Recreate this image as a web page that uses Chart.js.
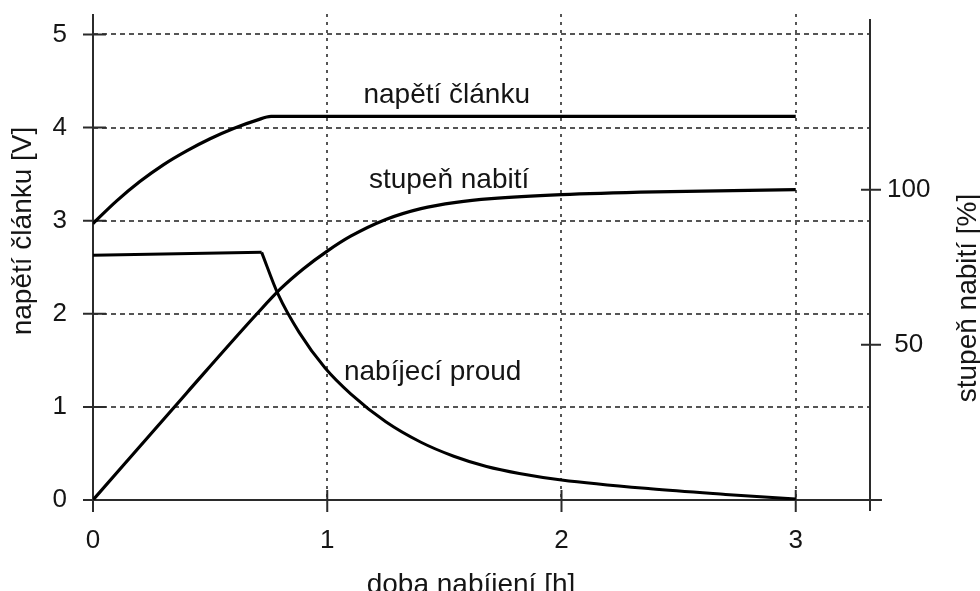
<!DOCTYPE html>
<html>
<head>
<meta charset="utf-8">
<script src="https://cdn.jsdelivr.net/npm/chart.js@4/dist/chart.umd.min.js"></script>
<style>
  html, body { margin: 0; padding: 0; background: #fff; }
  #wrap { width: 980px; height: 591px; }
</style>
</head>
<body>
<div id="wrap"><canvas id="chargeChart" width="980" height="591"></canvas></div>
<script>
// tick labels
const timeTicks = [0, 1, 2, 3];
const voltTicks = [0, 1, 2, 3, 4, 5];
const socTicks = [50, 100];

// napětí článku [V]
const voltTime = [0, 0.1, 0.2, 0.3, 0.4, 0.5, 0.6, 0.7, 0.76, 3.0];
const voltValues = [2.97, 3.21, 3.42, 3.60, 3.75, 3.88, 3.99, 4.08, 4.12, 4.12];

// nabíjecí proud (constant part, then decay)
const currentFlatTime = [0, 0.72];
const currentFlatValues = [2.63, 2.66];
const currentTime = [0.72, 0.79, 0.88, 0.99, 1.1, 1.25, 1.4, 1.54, 1.68, 1.82, 2.0, 2.38, 2.7, 3.0];
const currentValues = [2.66, 2.21, 1.80, 1.42, 1.14, 0.84, 0.62, 0.47, 0.36, 0.285, 0.215, 0.12, 0.06, 0.01];

// stupeň nabití [%]
const socTime = [0, 0.4, 0.7, 0.8, 0.9, 1.0, 1.1, 1.25, 1.4, 1.55, 1.7, 2.0, 2.4, 3.0];
const socValues = [0, 34.5, 60, 68, 74.6, 80.2, 85.0, 90.4, 93.9, 95.9, 97.1, 98.4, 99.3, 100];

// text next to the curves (time, volts at baseline)
const curveLabels = ["napětí článku", "stupeň nabití", "nabíjecí proud"];
const labelTime = [1.51, 1.52, 1.45];
const labelVolt = [4.26, 3.35, 1.29];

const pts = (xs, ys) => xs.map((v, i) => ({ x: v, y: ys[i] }));

const FONT = "'Liberation Sans', Arial, sans-serif";
const INK = "#151515";
const AXIS = "#2b2b2b";

const axisDecor = {
  id: "axisDecor",
  beforeDatasetsDraw(chart) {
    const { ctx, chartArea: a, scales } = chart;
    ctx.save();
    ctx.strokeStyle = AXIS;
    ctx.lineWidth = 2;
    ctx.beginPath();
    ctx.moveTo(a.left, a.top); ctx.lineTo(a.left, a.bottom);
    ctx.moveTo(a.left, a.bottom); ctx.lineTo(a.right + 12, a.bottom);
    ctx.moveTo(a.right, a.top + 5); ctx.lineTo(a.right, a.bottom + 11);
    timeTicks.forEach(v => {
      const px = scales.x.getPixelForValue(v);
      ctx.moveTo(px, a.bottom - 10); ctx.lineTo(px, a.bottom + 12);
    });
    voltTicks.forEach(v => {
      const py = scales.y.getPixelForValue(v);
      ctx.moveTo(a.left - 10, py); ctx.lineTo(a.left + 13, py);
    });
    socTicks.forEach(v => {
      const py = scales.y1.getPixelForValue(v);
      ctx.moveTo(a.right - 9, py); ctx.lineTo(a.right + 11, py);
    });
    ctx.stroke();
    ctx.restore();
  },
  afterDraw(chart) {
    const { ctx, scales } = chart;
    ctx.save();
    ctx.fillStyle = INK;
    ctx.font = "28px " + FONT;
    ctx.textAlign = "center";
    ctx.textBaseline = "alphabetic";
    curveLabels.forEach((t, i) => {
      ctx.fillText(t, scales.x.getPixelForValue(labelTime[i]), scales.y.getPixelForValue(labelVolt[i]));
    });
    // axis titles
    ctx.fillText("doba nabíjení [h]", 471, 593);
    ctx.save();
    ctx.translate(31, 231);
    ctx.rotate(-Math.PI / 2);
    ctx.fillText("napětí článku [V]", 0, 0);
    ctx.restore();
    ctx.save();
    ctx.translate(976, 298);
    ctx.rotate(-Math.PI / 2);
    ctx.fillText("stupeň nabití [%]", 0, 0);
    ctx.restore();
    ctx.restore();
  }
};

const lineStyle = {
  borderColor: "#000",
  borderWidth: 3.2,
  pointRadius: 0,
  fill: false,
  cubicInterpolationMode: "monotone"
};

const ctx = document.getElementById("chargeChart").getContext("2d");
const chargeChart = new Chart(ctx, {
  type: "line",
  data: {
    datasets: [
      Object.assign({ label: "napětí článku", data: pts(voltTime, voltValues), yAxisID: "y" }, lineStyle),
      Object.assign({ label: "nabíjecí proud", data: pts(currentFlatTime, currentFlatValues), yAxisID: "y" }, lineStyle, { borderWidth: 3 }),
      Object.assign({ label: "nabíjecí proud", data: pts(currentTime, currentValues), yAxisID: "y" }, lineStyle, { borderWidth: 3 }),
      Object.assign({ label: "stupeň nabití", data: pts(socTime, socValues), yAxisID: "y1" }, lineStyle)
    ]
  },
  options: {
    responsive: false,
    devicePixelRatio: 1,
    animation: false,
    layout: { padding: { top: 14, left: 0, right: 0, bottom: 0 } },
    plugins: {
      legend: { display: false },
      tooltip: { enabled: false }
    },
    scales: {
      x: {
        type: "linear",
        min: 0,
        max: 3.317,
        afterBuildTicks: s => { s.ticks = timeTicks.map(v => ({ value: v })); },
        afterFit: s => { s.height = 91; s.paddingLeft = 0; s.paddingRight = 0; },
        grid: { color: "#555", lineWidth: 2, drawTicks: false },
        border: { display: false, dash: [3, 5] },
        ticks: { color: INK, font: { family: FONT, size: 26 }, padding: 25, maxRotation: 0 }
      },
      y: {
        type: "linear",
        position: "left",
        min: 0,
        max: 5.22,
        afterBuildTicks: s => { s.ticks = voltTicks.map(v => ({ value: v })); },
        afterFit: s => { s.width = 93; s.paddingTop = 0; s.paddingBottom = 0; },
        grid: { color: "#555", lineWidth: 2, drawTicks: false },
        border: { display: false, dash: [5, 4] },
        ticks: { color: INK, font: { family: FONT, size: 26 }, padding: 26 }
      },
      y1: {
        type: "linear",
        position: "right",
        min: 0,
        max: 156.6,
        afterBuildTicks: s => { s.ticks = socTicks.map(v => ({ value: v })); },
        afterFit: s => { s.width = 110; s.paddingTop = 0; s.paddingBottom = 0; },
        grid: { display: false, drawTicks: false },
        border: { display: false },
        ticks: { color: INK, font: { family: FONT, size: 26 }, padding: 17, crossAlign: "center" }
      }
    }
  },
  plugins: [axisDecor]
});
</script>
</body>
</html>
